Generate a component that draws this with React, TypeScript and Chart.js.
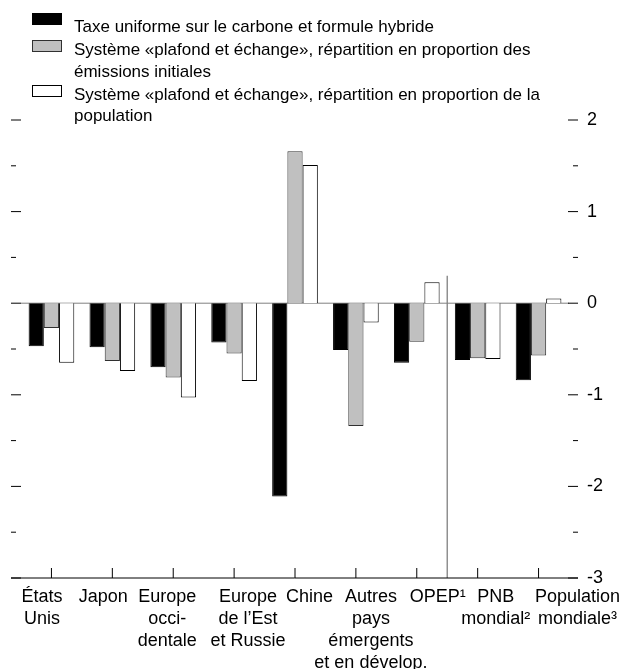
import React, { useEffect, useRef } from 'react';
import { Chart, registerables } from 'chart.js';

Chart.register(...registerables);

// ---- Data ----
const CATEGORY_LINES: string[][] = [
  ['États', 'Unis'],
  ['Japon'],
  ['Europe', 'occi-', 'dentale'],
  ['Europe', 'de l’Est', 'et Russie'],
  ['Chine'],
  ['Autres', 'pays', 'émergents', 'et en dévelop.'],
  ['OPEP¹'],
  ['PNB', 'mondial²'],
  ['Population', 'mondiale³'],
];
const TAXE_UNIFORME = [-0.47, -0.48, -0.7, -0.43, -2.11, -0.51, -0.65, -0.62, -0.84];
const PLAFOND_EMISSIONS = [-0.27, -0.63, -0.81, -0.55, 1.66, -1.34, -0.42, -0.6, -0.57];
const PLAFOND_POPULATION = [-0.65, -0.74, -1.03, -0.85, 1.51, -0.21, 0.23, -0.61, 0.05];
const SERIES_NAMES: string[][] = [
  ['Taxe uniforme sur le carbone et formule hybride'],
  ['Système «plafond et échange», répartition en proportion des', 'émissions initiales'],
  ['Système «plafond et échange», répartition en proportion de la', 'population'],
];
const Y_MIN = -3;
const Y_MAX = 2;
const Y_STEP = 0.5;

// ---- Styles / layout ----
const FAMILY = '"Liberation Sans", Arial, sans-serif';
const LEGEND_FONT = '17px ' + FAMILY;
const AXIS_FONT = '18px ' + FAMILY;
const FILLS = ['#000000', '#c0c0c0', '#ffffff'];
const BORDERS = ['#000000', '#303030', '#000000'];
const LABEL_SHIFT = [-9.5, -9, -6, 14, 14.6, 15, 21, 18, 39];
const LEGEND_BASELINES = [[32], [55, 77], [100, 121]];
const LEGEND_BOX_TOP = [13, 40, 85];

function line(ctx: CanvasRenderingContext2D, x1: number, y1: number, x2: number, y2: number) {
  ctx.beginPath();
  ctx.moveTo(x1, y1);
  ctx.lineTo(x2, y2);
  ctx.stroke();
}

const decorPlugin = {
  id: 'decor',
  beforeDatasetsDraw(chart: any) {
    const { ctx, chartArea: a, scales } = chart;
    const x = scales.x;
    const y = scales.y;
    ctx.save();
    ctx.lineWidth = 1;
    ctx.strokeStyle = '#808080';
    const y0 = y.getPixelForValue(0);
    line(ctx, a.left, y0, a.right, y0);
    const xs = (x.getPixelForValue(6) + x.getPixelForValue(7)) / 2;
    ctx.lineWidth = 1.3;
    line(ctx, xs, y.getPixelForValue(0.3), xs, a.bottom);
    ctx.restore();
  },
  afterDatasetsDraw(chart: any) {
    const { ctx, chartArea: a, scales } = chart;
    const x = scales.x;
    const y = scales.y;
    const edgeL = a.left - 10;
    const edgeR = a.right + 9;
    ctx.save();
    ctx.strokeStyle = '#000';
    ctx.lineWidth = 1;
    // y ticks on both sides
    for (let v = Y_MIN; v <= Y_MAX + 1e-9; v += Y_STEP) {
      const py = y.getPixelForValue(v);
      const major = Math.abs(v - Math.round(v)) < 1e-9;
      const len = major ? 10 : 5;
      line(ctx, edgeL, py, edgeL + len, py);
      line(ctx, edgeR - len, py, edgeR, py);
    }
    // bottom axis line
    line(ctx, edgeL, a.bottom, edgeR, a.bottom);
    // category ticks + labels
    ctx.fillStyle = '#000';
    ctx.font = AXIS_FONT;
    ctx.textAlign = 'center';
    ctx.textBaseline = 'alphabetic';
    CATEGORY_LINES.forEach((lines, i) => {
      const px = x.getPixelForValue(i);
      line(ctx, px, a.bottom - 10, px, a.bottom);
      lines.forEach((t, j) => {
        ctx.fillText(t, px + LABEL_SHIFT[i], a.bottom + 24 + j * 22);
      });
    });
    // legend
    ctx.font = LEGEND_FONT;
    ctx.textAlign = 'left';
    SERIES_NAMES.forEach((lines, i) => {
      const b = LEGEND_BASELINES[i];
      const top = LEGEND_BOX_TOP[i];
      ctx.fillStyle = FILLS[i];
      ctx.fillRect(32, top, 30, 12);
      ctx.strokeStyle = BORDERS[i];
      ctx.strokeRect(32.5, top + 0.5, 29, 11);
      ctx.fillStyle = '#000';
      lines.forEach((t, j) => ctx.fillText(t, 74, b[j]));
    });
    ctx.restore();
  },
};

export default function App() {
  const ref = useRef<HTMLCanvasElement>(null);
  useEffect(() => {
    if (!ref.current) return;
    const chart = new Chart(ref.current, {
      type: 'bar',
      data: {
        labels: CATEGORY_LINES.map((l) => l.join(' ')),
        datasets: [TAXE_UNIFORME, PLAFOND_EMISSIONS, PLAFOND_POPULATION].map((d, i) => ({
          label: SERIES_NAMES[i].join(' '),
          data: d,
          backgroundColor: FILLS[i],
          borderColor: BORDERS[i],
          borderWidth: 1,
          categoryPercentage: 0.75,
          barPercentage: 1,
        })),
      },
      options: {
        animation: false,
        responsive: false,
        events: [],
        layout: { padding: { left: 21, top: 120, bottom: 91, right: 0 } },
        plugins: { legend: { display: false }, tooltip: { enabled: false } },
        scales: {
          x: { display: false, offset: true },
          y: {
            position: 'right',
            min: Y_MIN,
            max: Y_MAX,
            grid: { display: false, drawTicks: false },
            border: { display: false },
            afterFit: (s: any) => {
              s.width = 54;
            },
            ticks: {
              stepSize: Y_STEP,
              padding: 18,
              color: '#000',
              font: { family: FAMILY, size: 18 },
              callback: (v: any) => (Math.abs(v - Math.round(v)) < 1e-9 ? String(Math.round(v)) : ''),
            },
          },
        },
      },
      plugins: [decorPlugin],
    });
    return () => chart.destroy();
  }, []);
  return (
    <div style={{ position: 'absolute', left: 0, top: 0, width: 623, height: 669, background: '#fff' }}>
      <canvas ref={ref} width={623} height={669} />
    </div>
  );
}
